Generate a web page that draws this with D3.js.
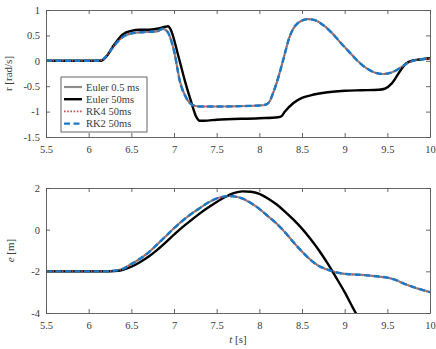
<!DOCTYPE html>
<html>
<head>
<meta charset="utf-8">
<script src="https://cdn.jsdelivr.net/npm/d3@7"></script>
<style>
  body { margin: 0; background: #fff; }
  svg { display: block; }
</style>
</head>
<body>
<svg id="chart" width="436" height="349"></svg>
<script>
// ---- data ----
const xTicks = [5.5, 6, 6.5, 7, 7.5, 8, 8.5, 9, 9.5, 10];
const xTickLabels = ["5.5", "6", "6.5", "7", "7.5", "8", "8.5", "9", "9.5", "10"];
const rTicks = [1, 0.5, 0, -0.5, -1, -1.5];
const rTickLabels = ["1", "0.5", "0", "-0.5", "-1", "-1.5"];
const eTicks = [2, 0, -2, -4];
const eTickLabels = ["2", "0", "-2", "-4"];
const seriesNames = ["Euler 0.5 ms", "Euler 50ms", "RK4 50ms", "RK2 50ms"];

// top panel: r [rad/s]
const rRefT = [5.5, 6.1, 6.15, 6.2, 6.3, 6.4, 6.5, 6.6, 6.7, 6.8, 6.87, 6.92, 7.0, 7.07, 7.15, 7.23, 7.3, 7.5, 8.0, 8.08, 8.12, 8.16, 8.2, 8.28, 8.35, 8.45, 8.57, 8.65, 8.75, 8.85, 8.95, 9.05, 9.15, 9.25, 9.35, 9.45, 9.55, 9.65, 9.73, 9.8, 9.9, 10];
const rRefV = [0, 0, 0.01, 0.08, 0.3, 0.47, 0.54, 0.56, 0.57, 0.58, 0.63, 0.58, 0.2, -0.41, -0.75, -0.88, -0.9, -0.9, -0.88, -0.86, -0.8, -0.64, -0.45, 0.02, 0.45, 0.74, 0.82, 0.8, 0.7, 0.55, 0.36, 0.18, 0.0, -0.14, -0.23, -0.26, -0.23, -0.14, -0.05, 0.0, 0.03, 0.04];
const rEulT = [5.5, 6.15, 6.2, 6.3, 6.4, 6.5, 6.6, 6.7, 6.8, 6.9, 6.93, 6.96, 7.05, 7.13, 7.2, 7.26, 7.3, 7.35, 7.5, 8.0, 8.22, 8.26, 8.3, 8.4, 8.5, 8.6, 8.8, 9.0, 9.2, 9.4, 9.47, 9.55, 9.65, 9.72, 9.78, 9.9, 10];
const rEulV = [0, 0, 0.07, 0.32, 0.52, 0.59, 0.61, 0.61, 0.63, 0.67, 0.68, 0.62, 0.1, -0.41, -0.8, -1.1, -1.18, -1.18, -1.16, -1.13, -1.11, -1.09, -1.0, -0.83, -0.73, -0.68, -0.62, -0.59, -0.58, -0.57, -0.55, -0.45, -0.2, -0.05, 0.0, 0.03, 0.05];

// bottom panel: e [m]
const eRefT = [5.5, 6.2, 6.3, 6.4, 6.5, 6.6, 6.7, 6.8, 6.9, 7.0, 7.1, 7.2, 7.3, 7.4, 7.5, 7.6, 7.65, 7.7, 7.8, 7.9, 8.0, 8.1, 8.2, 8.3, 8.4, 8.5, 8.6, 8.7, 8.8, 8.9, 9.0, 9.2, 9.4, 9.5, 9.6, 9.7, 9.8, 9.9, 10];
const eRefV = [-2, -2, -1.97, -1.88, -1.65, -1.4, -1.1, -0.72, -0.33, 0.07, 0.43, 0.75, 1.03, 1.3, 1.5, 1.6, 1.62, 1.6, 1.5, 1.28, 1.0, 0.65, 0.3, -0.12, -0.6, -1.05, -1.45, -1.75, -1.92, -2.05, -2.12, -2.17, -2.25, -2.3, -2.42, -2.6, -2.75, -2.88, -3.0];
const eEulT = [5.5, 6.25, 6.35, 6.4, 6.5, 6.6, 6.7, 6.8, 6.9, 7.0, 7.1, 7.2, 7.3, 7.4, 7.5, 7.6, 7.7, 7.8, 7.9, 8.0, 8.1, 8.2, 8.3, 8.4, 8.5, 8.6, 8.7, 8.8, 8.9, 9.0, 9.1, 9.15];
const eEulV = [-2, -2, -1.98, -1.93, -1.78, -1.56, -1.3, -0.98, -0.62, -0.24, 0.12, 0.45, 0.77, 1.06, 1.33, 1.57, 1.75, 1.84, 1.82, 1.72, 1.5, 1.22, 0.87, 0.48, 0.05, -0.45, -1.0, -1.62, -2.3, -3.0, -3.78, -4.15];

// ---- layout ----
const FONT = "Liberation Serif, Times New Roman, Times, serif";
const svg = d3.select("#chart");
const L = 46, R = 430;
const axisColor = "#555555";
const textColor = "#3a3a3a";
const fontSize = 10.5;

const x = d3.scaleLinear().domain([5.5, 10]).range([L, R]);

const styles = [
  { color: "#8c8c8c", width: 2.2, dash: null },
  { color: "#000000", width: 2.4, dash: null },
  { color: "#c0504d", width: 1.6, dash: "1.6,1.6" },
  { color: "#1a78c8", width: 2.4, dash: "6,3.5" }
];

function panel(top, bottom, yDomain, yTicks, yTickLabels, seriesT, seriesV, clipId) {
  const y = d3.scaleLinear().domain(yDomain).range([bottom, top]);
  const g = svg.append("g");

  g.append("clipPath").attr("id", clipId)
    .append("rect").attr("x", L).attr("y", top).attr("width", R - L).attr("height", bottom - top);

  const line = d3.line()
    .x(d => x(d[0])).y(d => y(d[1]))
    .curve(d3.curveMonotoneX);

  const lines = g.append("g").attr("clip-path", `url(#${clipId})`);
  const dataSets = [0, 1, 0, 0];
  dataSets.forEach((k, i) => {
    const pts = seriesT[k].map((t, j) => [t, seriesV[k][j]]);
    lines.append("path")
      .datum(pts)
      .attr("d", line)
      .attr("fill", "none")
      .attr("stroke", styles[i].color)
      .attr("stroke-width", styles[i].width)
      .attr("stroke-linejoin", "round")
      .attr("stroke-dasharray", styles[i].dash);
  });

  const tl = 4;
  const axB = d3.axisBottom(x).tickValues(xTicks).tickSizeInner(-tl).tickSizeOuter(0)
    .tickFormat((d, i) => xTickLabels[i]).tickPadding(9);
  const axT = d3.axisTop(x).tickValues(xTicks).tickSizeInner(-tl).tickSizeOuter(0).tickFormat("");
  const axL = d3.axisLeft(y).tickValues(yTicks).tickSizeInner(-tl).tickSizeOuter(0)
    .tickFormat((d, i) => yTickLabels[i]).tickPadding(6);
  const axR = d3.axisRight(y).tickValues(yTicks).tickSizeInner(-tl).tickSizeOuter(0).tickFormat("");

  const gB = g.append("g").attr("transform", `translate(0,${bottom})`).call(axB);
  const gT = g.append("g").attr("transform", `translate(0,${top})`).call(axT);
  const gL = g.append("g").attr("transform", `translate(${L},0)`).call(axL);
  const gR = g.append("g").attr("transform", `translate(${R},0)`).call(axR);
  [gB, gT, gL, gR].forEach(a => {
    a.attr("font-family", FONT).attr("font-size", fontSize);
    a.selectAll("path").attr("stroke", axisColor).attr("stroke-width", 0.9);
    a.selectAll("line").attr("stroke", axisColor).attr("stroke-width", 0.9);
    a.selectAll("text").attr("fill", textColor).attr("font-family", FONT).attr("font-size", fontSize);
  });
  return { y, g };
}

panel(10, 137, [-1.5, 1], rTicks, rTickLabels, [rRefT, rEulT], [rRefV, rEulV], "c1");
panel(188, 313, [-4, 2], eTicks, eTickLabels, [eRefT, eEulT], [eRefV, eEulV], "c2");

// axis labels
svg.append("text")
  .attr("transform", `translate(12,${(10 + 137) / 2}) rotate(-90)`)
  .attr("text-anchor", "middle").attr("fill", textColor)
  .attr("font-family", FONT).attr("font-size", 11)
  .text("r [rad/s]");

const eLab = svg.append("text")
  .attr("transform", `translate(14,${(188 + 313) / 2}) rotate(-90)`)
  .attr("text-anchor", "middle").attr("fill", textColor)
  .attr("font-family", FONT).attr("font-size", 11);
eLab.append("tspan").attr("font-style", "italic").text("e");
eLab.append("tspan").text(" [m]");

const tLab = svg.append("text")
  .attr("x", (L + R) / 2).attr("y", 343)
  .attr("text-anchor", "middle").attr("fill", textColor)
  .attr("font-family", FONT).attr("font-size", 11);
tLab.append("tspan").attr("font-style", "italic").text("t");
tLab.append("tspan").text(" [s]");

// legend
const lg = svg.append("g");
lg.append("rect").attr("x", 61).attr("y", 77).attr("width", 86).attr("height", 55)
  .attr("fill", "#fff").attr("stroke", axisColor).attr("stroke-width", 0.9);
seriesNames.forEach((name, i) => {
  const yy = 87 + i * 12.2;
  lg.append("line").attr("x1", 64).attr("x2", 82).attr("y1", yy).attr("y2", yy)
    .attr("stroke", styles[i].color).attr("stroke-width", styles[i].width)
    .attr("stroke-dasharray", styles[i].dash);
  lg.append("text").attr("x", 86).attr("y", yy + 3.5)
    .attr("fill", textColor).attr("font-family", FONT).attr("font-size", fontSize).text(name);
});
</script>
</body>
</html>
